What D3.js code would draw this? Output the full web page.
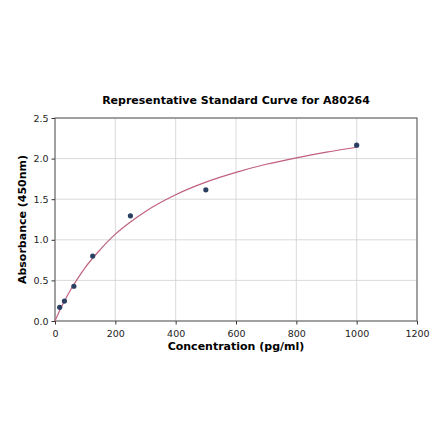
<!DOCTYPE html>
<html>
<head>
<meta charset="utf-8">
<script src="https://cdn.jsdelivr.net/npm/d3@7"></script>
<style>
  body { margin: 0; background: #fff; }
  text { font-family: "DejaVu Sans", sans-serif; }
</style>
</head>
<body>
<div id="chart"></div>
<script>
// standard points
const concentrations = [15.6, 31.25, 62.5, 125, 250, 500, 1000];
const absorbances = [0.168, 0.245, 0.428, 0.80, 1.295, 1.615, 2.165];

// fitted curve
const curveX = [0, 10, 25, 50, 75, 100, 150, 200, 250, 300, 400, 500, 600, 700, 800, 900, 1000];
const curveY = [0, 0.084, 0.199, 0.372, 0.522, 0.658, 0.88, 1.07, 1.22, 1.35, 1.555, 1.71, 1.83, 1.93, 2.01, 2.08, 2.14];

const xTicks = [0, 200, 400, 600, 800, 1000, 1200];
const yTicks = [0, 0.5, 1.0, 1.5, 2.0, 2.5];

const width = 440;
const height = 441;
const margin = { top: 118, right: 23, bottom: 120, left: 55 };

const svg = d3.select("#chart").append("svg")
  .attr("width", width)
  .attr("height", height);

const x = d3.scaleLinear().domain([0, 1200]).range([margin.left, width - margin.right]);
const y = d3.scaleLinear().domain([0, 2.5]).range([height - margin.bottom, margin.top]);

// grid
svg.append("g")
  .selectAll("line.vx")
  .data(xTicks)
  .enter().append("line")
  .attr("x1", d => x(d)).attr("x2", d => x(d))
  .attr("y1", y(0)).attr("y2", y(2.5))
  .attr("stroke", "#d0d0d0").attr("stroke-width", 0.8);

svg.append("g")
  .selectAll("line.hy")
  .data(yTicks)
  .enter().append("line")
  .attr("x1", x(0)).attr("x2", x(1200))
  .attr("y1", d => y(d)).attr("y2", d => y(d))
  .attr("stroke", "#d0d0d0").attr("stroke-width", 0.8);

// axes
const xAxis = svg.append("g")
  .attr("transform", `translate(0,${y(0)})`)
  .call(d3.axisBottom(x).tickValues(xTicks).tickSize(3.5).tickFormat(d3.format("d")));
const yAxis = svg.append("g")
  .attr("transform", `translate(${x(0)},0)`)
  .call(d3.axisLeft(y).tickValues(yTicks).tickSize(3.5).tickFormat(d3.format(".1f")));

[xAxis, yAxis].forEach(a => {
  a.select(".domain").remove();
  a.selectAll(".tick line").attr("stroke", "#333");
  a.selectAll(".tick text").attr("fill", "#222").style("font-size", "9.5px");
});
xAxis.selectAll(".tick text").attr("dy", "0.95em");

// frame
svg.append("rect")
  .attr("x", x(0)).attr("y", y(2.5))
  .attr("width", x(1200) - x(0)).attr("height", y(0) - y(2.5))
  .attr("fill", "none").attr("stroke", "#555").attr("stroke-width", 1);

// curve
const line = d3.line()
  .x((d, i) => x(curveX[i]))
  .y(d => y(d))
  .curve(d3.curveMonotoneX);

svg.append("path")
  .datum(curveY)
  .attr("d", line)
  .attr("fill", "none")
  .attr("stroke", "#c0607c")
  .attr("stroke-width", 1.2);

// points
svg.selectAll("circle")
  .data(concentrations)
  .enter().append("circle")
  .attr("cx", d => x(d))
  .attr("cy", (d, i) => y(absorbances[i]))
  .attr("r", 2.6)
  .attr("fill", "#2b3f63");

// titles
svg.append("text")
  .attr("x", 236).attr("y", 104)
  .attr("text-anchor", "middle")
  .style("font-size", "11px").style("font-weight", "bold")
  .text("Representative Standard Curve for A80264");

svg.append("text")
  .attr("x", x(600)).attr("y", 350)
  .attr("text-anchor", "middle")
  .style("font-size", "11px").style("font-weight", "bold")
  .text("Concentration (pg/ml)");

svg.append("text")
  .attr("transform", `translate(26,${y(1.25)}) rotate(-90)`)
  .attr("text-anchor", "middle")
  .style("font-size", "11px").style("font-weight", "bold")
  .text("Absorbance (450nm)");
</script>
</body>
</html>
